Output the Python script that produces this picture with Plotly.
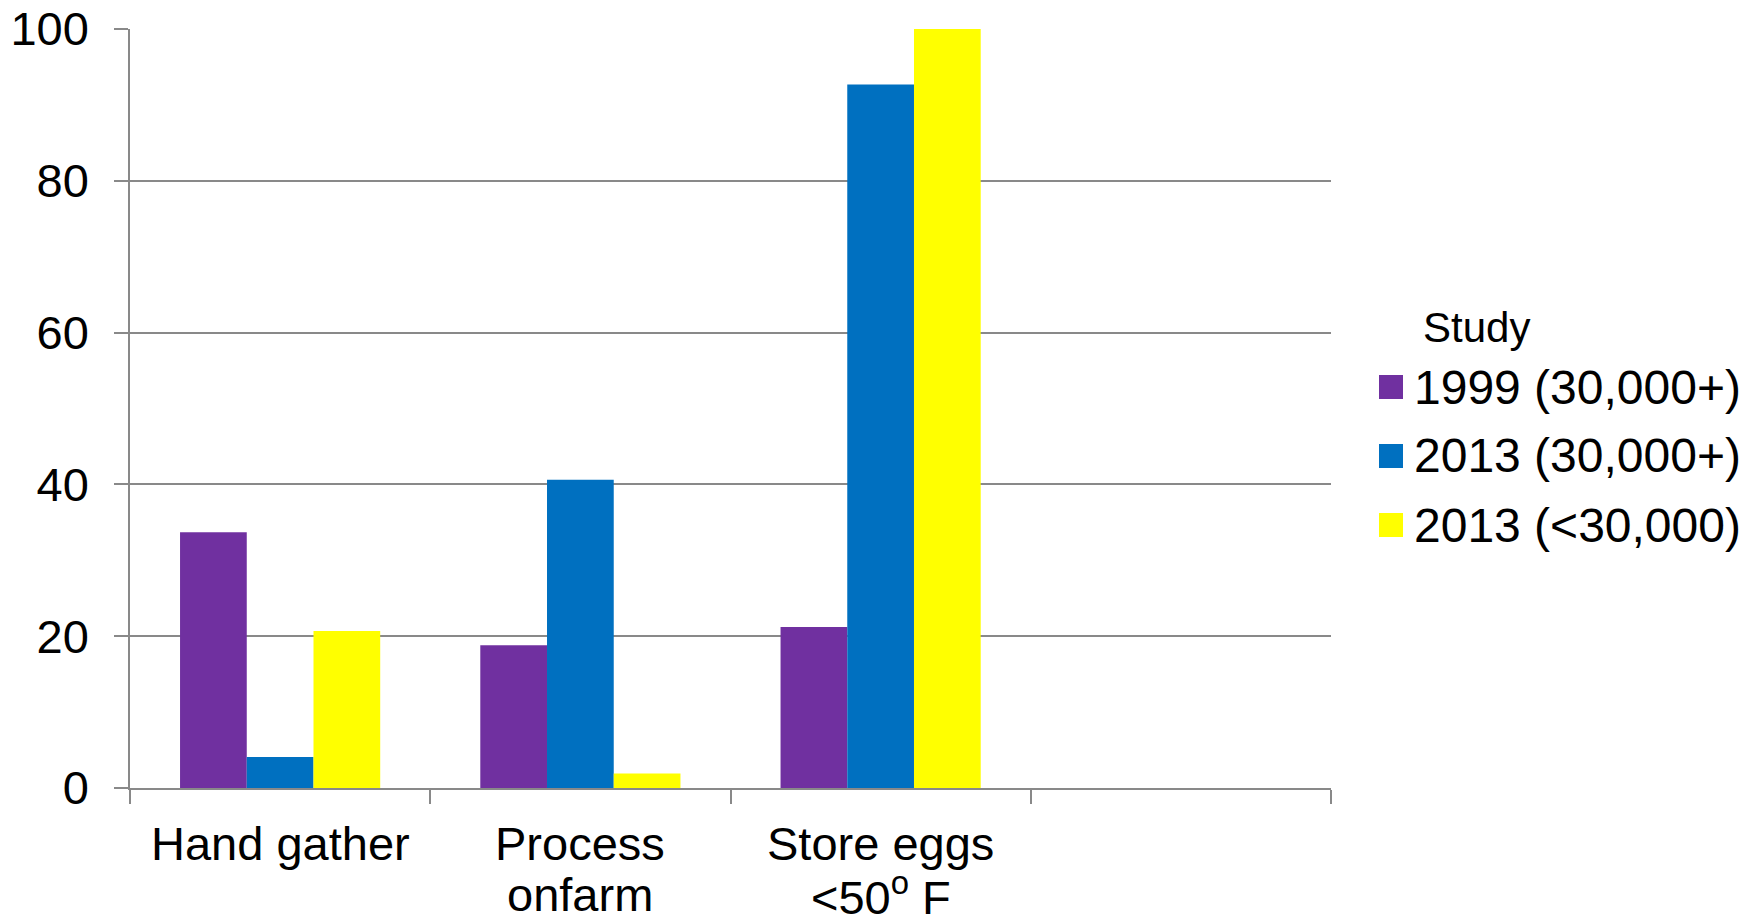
import plotly.graph_objects as go

categories = ["Hand gather", "Process<br>onfarm", "Store eggs<br>&lt;50<sup>o</sup> F", " "]
series_names = ["1999 (30,000+)", "2013 (30,000+)", "2013 (<30,000)"]
vals_1999_big = [33.7, 18.8, 21.2, None]
vals_2013_big = [4.1, 40.6, 92.7, None]
vals_2013_small = [20.7, 1.9, 100.0, None]
series_values = [vals_1999_big, vals_2013_big, vals_2013_small]
colors = ["#7030A0", "#0070C0", "#FFFF00"]
y_ticks = [0, 20, 40, 60, 80, 100]
legend_title = "Study"

W, H = 1757, 916
L, R, T, B = 130, 426, 29, 128
pw, ph = W - L - R, H - T - B
FONT = "Liberation Sans, Arial, sans-serif"

def px_x(x):
    return (x - L) / pw

def px_y(y):
    return (H - B - y) / ph

fig = go.Figure()
for name, vals, col in zip(series_names, series_values, colors):
    fig.add_trace(go.Bar(x=categories, y=vals, name=name, marker=dict(color=col, line=dict(width=0)),
                         showlegend=False))

# category labels (tight line spacing like the reference)
line_centers = [843, 894]
for cat in categories:
    if not cat.strip():
        continue
    for i, line in enumerate(cat.split("<br>")):
        fig.add_annotation(text=line, x=cat, xref="x", y=0, yref="paper",
                           xanchor="center", yanchor="middle", showarrow=False,
                           yshift=-(line_centers[i] - (H - B)),
                           font=dict(family=FONT, size=47, color="black"))

# manual legend
fig.add_annotation(text=legend_title, x=px_x(1421), y=px_y(327), xref="paper", yref="paper",
                   xanchor="left", yanchor="middle", showarrow=False,
                   font=dict(family=FONT, size=42, color="black"))
row_y = [387, 456, 525]
for name, col, ry in zip(series_names, colors, row_y):
    fig.add_shape(type="rect", xref="paper", yref="paper",
                  x0=px_x(1379), x1=px_x(1403), y0=px_y(ry - 12), y1=px_y(ry + 12),
                  fillcolor=col, line=dict(width=0))
    fig.add_annotation(text=name.replace("<", "&lt;"), x=px_x(1412), y=px_y(ry), xref="paper", yref="paper",
                       xanchor="left", yanchor="middle", showarrow=False,
                       font=dict(family=FONT, size=48, color="black"))

fig.update_layout(
    width=W, height=H,
    margin=dict(l=L, r=R, t=T, b=B, autoexpand=False),
    paper_bgcolor="white", plot_bgcolor="white",
    barmode="group", bargap=1/3, bargroupgap=0,
    font=dict(family=FONT, size=47, color="black"),
    showlegend=False,
)
fig.update_xaxes(
    type="category", categoryorder="array", categoryarray=categories,
    showline=True, linecolor="#898989", linewidth=1.5,
    ticks="outside", tickson="boundaries", ticklen=14, tickwidth=1.5, tickcolor="#898989",
    showgrid=False, showticklabels=False,
)
fig.update_yaxes(
    range=[0, 100], tickvals=y_ticks, ticktext=[str(v) for v in y_ticks],
    showline=True, linecolor="#898989", linewidth=1.5,
    ticks="outside", ticklen=14, tickwidth=1.5, tickcolor="#898989",
    showgrid=True, gridcolor="#898989", gridwidth=1.5, zeroline=False,
    ticklabelstandoff=16,
    tickfont=dict(family=FONT, size=47, color="black"),
)

fig.write_html("out.html")
